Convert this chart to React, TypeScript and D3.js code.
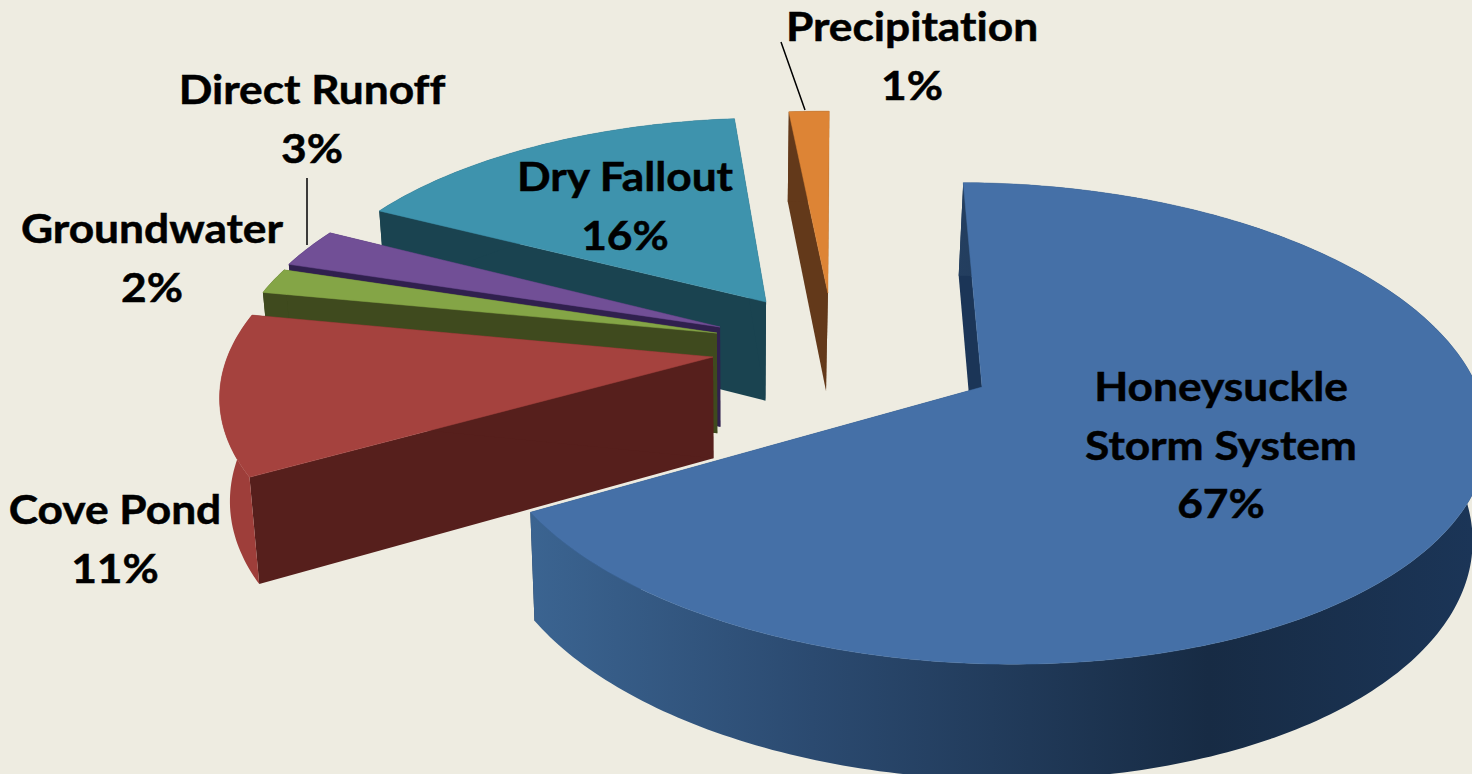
import * as d3 from "d3";

const categories = ["Honeysuckle Storm System", "Cove Pond", "Groundwater", "Direct Runoff", "Dry Fallout", "Precipitation"];
const shares = [66.67, 11.25, 1.81, 2.78, 15.92, 1.58];
const topColors = ["#4570a7", "#a5423e", "#84a546", "#714f96", "#3e93ad", "#dd8435"];
const sideColors = ["#1b3557", "#561f1c", "#3f4a1e", "#30204e", "#1a4350", "#63391a"];
const rimColors = ["url(#blueWall)", "#9e3e3a", "#3f4a1e", "#30204e", "#1a4350", "#63391a"];
const explode = [168.2, 114.2, 118.7, 121.5, 127.6, 132];
const explodeDeg = [116, 264.6, 290.4, 296.8, 330.7, 0.7];

const labelLines = [
  ["Honeysuckle", "Storm System", "67%"],
  ["Cove Pond", "11%"],
  ["Groundwater", "2%"],
  ["Direct Runoff", "3%"],
  ["Dry Fallout", "16%"],
  ["Precipitation", "1%"],
];
const labelAnchors = [
  [1221, 401],
  [115, 524],
  [152, 243],
  [312, 104],
  [625, 191],
  [912, 41],
];
const leaders = [
  [781, 42, 805, 110],
  [307, 178, 307, 245],
];

const W = 1472;
const H = 774;
const R = 484;
const tilt = 0.4645;
const focal = 3278;
const depth = 101;
const cx = 827;
const cy = 352;
const vanishX = 810;
const startDeg = 0.5;

type Pt = [number, number];

// ground plane -> screen, y grows towards the viewer
const project = (gx: number, gy: number, low = false): Pt => {
  const s = focal / (focal - gy);
  const x = vanishX + (cx + gx - vanishX) * s;
  const y = cy + gy * tilt * s;
  if (!low) return [x, y];
  return [736 + (x - 736) * 0.98, y + depth * (1 + (s - 1) * 0.7)];
};

const line = d3.line<Pt>().x((d) => d[0]).y((d) => d[1]);

const pie = d3
  .pie<number>()
  .sort(null)
  .startAngle((startDeg * Math.PI) / 180)
  .endAngle((startDeg * Math.PI) / 180 + 2 * Math.PI);

const slices = pie(shares).map((p, i) => {
  const dir = (explodeDeg[i] * Math.PI) / 180;
  const ox = Math.sin(dir) * explode[i];
  const oy = -Math.cos(dir) * explode[i];
  const steps = Math.max(4, Math.ceil((p.endAngle - p.startAngle) * 60));
  const angles = d3.range(steps + 1).map((k) => p.startAngle + ((p.endAngle - p.startAngle) * k) / steps);
  const rim = (low: boolean) => angles.map((a) => project(ox + Math.sin(a) * R, oy - Math.cos(a) * R, low));
  const hiRim = rim(false);
  const loRim = rim(true);
  const apexHi = project(ox, oy);
  const apexLo = project(ox, oy, true);
  return {
    i,
    top: line([apexHi, ...hiRim]) + "Z",
    wall: line([...hiRim, ...loRim.slice().reverse()]) + "Z",
    startFace: line([apexHi, hiRim[0], loRim[0], apexLo]) + "Z",
    endFace: line([apexHi, hiRim[steps], loRim[steps], apexLo]) + "Z",
  };
});

// back to front
const paintOrder = [5, 4, 3, 2, 1, 0];

export default function App() {
  return (
    <svg width={W} height={H} viewBox={`0 0 ${W} ${H}`} style={{ position: "absolute", left: 0, top: 0, display: "block" }}>
      <defs>
        <linearGradient id="blueWall" gradientUnits="userSpaceOnUse" x1={530} x2={1472} y1={0} y2={0}>
          <stop offset="0" stopColor="#3b6491" />
          <stop offset="0.3" stopColor="#2b4a70" />
          <stop offset="0.72" stopColor="#172b44" />
          <stop offset="1" stopColor="#1b3557" />
        </linearGradient>
      </defs>
      <rect width={W} height={H} fill="#eeece1" />
      {paintOrder.map((k) => {
        const s = slices[k];
        return (
          <g key={categories[k]}>
            <path d={s.startFace} fill={sideColors[k]} />
            <path d={s.endFace} fill={sideColors[k]} />
            <path d={s.wall} fill={rimColors[k]} />
            <path d={s.top} fill={topColors[k]} stroke={topColors[k]} strokeWidth={0.5} />
          </g>
        );
      })}
      {leaders.map((l, i) => (
        <line key={i} x1={l[0]} y1={l[1]} x2={l[2]} y2={l[3]} stroke="#000" strokeWidth={1.5} />
      ))}
      {labelLines.map((lines, i) =>
        lines.map((t, j) => (
          <text
            key={t}
            transform={`translate(${labelAnchors[i][0]},${labelAnchors[i][1] + j * 58.5}) scale(1.08,1)`}
            textAnchor="middle"
            fontFamily="Lato, 'Open Sans', sans-serif"
            fontWeight={700}
            fontSize={41}
            fill="#000"
            stroke="#000"
            strokeWidth={0.5}
            style={{ fontVariantLigatures: "none" }}
          >
            {t}
          </text>
        ))
      )}
    </svg>
  );
}
